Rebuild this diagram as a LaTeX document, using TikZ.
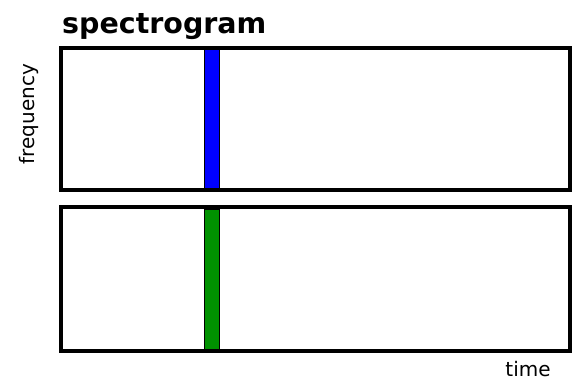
\documentclass[tikz,border=0pt]{standalone}
\usepackage{fontspec}
\setmainfont{DejaVu Sans}
\definecolor{bargreen}{RGB}{0,146,0}
\definecolor{barblue}{RGB}{0,0,255}
\begin{document}
\begin{tikzpicture}[x=1pt,y=-1pt,
  panel/.style={draw=black,line width=4pt},
  bar/.style={draw=black,line width=1pt},
  lbl/.style={inner sep=0pt,font=\fontsize{20}{20}\selectfont}]
\useasboundingbox[fill=white] (0,0) rectangle (572,381);
\draw[panel] (60.5,47.5) rectangle (569.5,190);
\draw[panel] (60.5,207) rectangle (569.5,351);
\path[bar,fill=barblue] (204,49.5) rectangle (219.5,188);
\path[bar,fill=bargreen] (204,209) rectangle (219.5,349);
\node[inner sep=0pt,anchor=base west,font=\fontsize{28.5}{28.5}\selectfont\bfseries] (title) at (62,33) {spectrogram};
\node[lbl,rotate=90] (freq) at (29,114) {frequency};
\node[lbl] (time) at (528,369.5) {time};
\end{tikzpicture}
\end{document}
